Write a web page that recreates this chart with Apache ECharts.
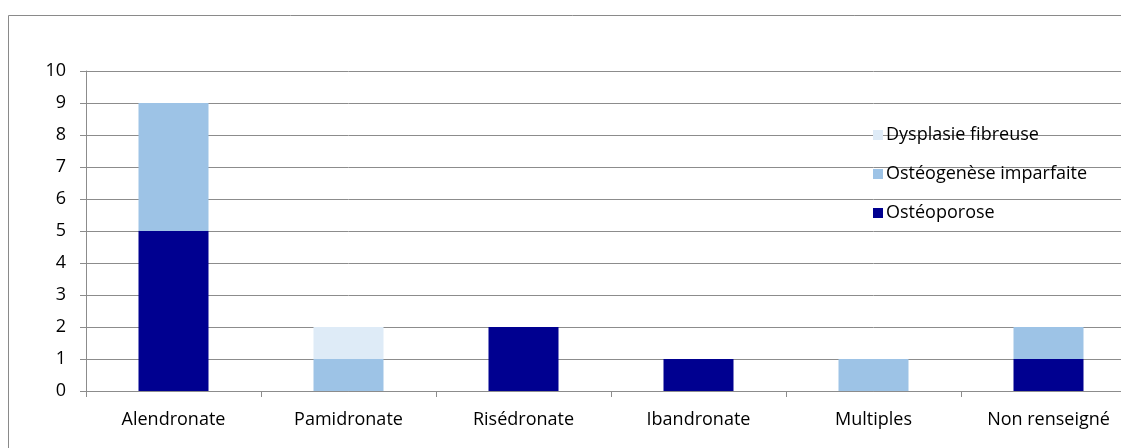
<!DOCTYPE html>
<html>
<head>
<meta charset="utf-8">
<script src="https://cdn.jsdelivr.net/npm/echarts@6/dist/echarts.min.js"></script>
<style>
html,body{margin:0;padding:0;background:#fff;overflow:hidden;width:1121px;height:448px;}
#chart{position:absolute;left:0;top:0;width:1136px;height:448px;}
</style>
</head>
<body>
<div id="chart"></div>
<script>
const categories = ['Alendronate','Pamidronate','Risédronate','Ibandronate','Multiples','Non renseigné'];
const osteoporose = [5, 0, 2, 1, 0, 1];
const osteogenese = [4, 1, 0, 0, 1, 1];
const dysplasie = [0, 1, 0, 0, 0, 0];
const yTicks = [0,1,2,3,4,5,6,7,8,9,10];

const font = '"Open Sans", "Liberation Sans", sans-serif';
const chart = echarts.init(document.getElementById('chart'), null, {renderer:'canvas'});
chart.setOption({
  animation:false,
  textStyle:{fontFamily:font},
  graphic:[{
    type:'polyline', silent:true, z:-1,
    shape:{points:[[8.5,460],[8.5,15.5],[1140,15.5]]},
    style:{stroke:'#8a8a8a', lineWidth:1, fill:null}
  }],
  grid:{left:86, top:71, bottom:57, right:0, containLabel:false},
  legend:{
    orient:'vertical', left:868, top:121, itemWidth:10, itemHeight:10, itemGap:21,
    data:['Dysplasie fibreuse','Ostéogenèse imparfaite','Ostéoporose'],
    textStyle:{fontFamily:font, fontSize:18, lineHeight:18, color:'#000', padding:[0,0,0,-2]},
    icon:'rect'
  },
  xAxis:{
    type:'category', data:categories,
    axisLine:{lineStyle:{color:'#8c8c8c', width:1}},
    axisTick:{show:true, length:6, lineStyle:{color:'#8c8c8c'}},
    axisLabel:{fontFamily:font, fontSize:18, color:'#000', margin:20}
  },
  yAxis:{
    type:'value', min:0, max:10, interval:1,
    axisLine:{show:true, lineStyle:{color:'#8c8c8c'}},
    axisTick:{show:true, length:6, lineStyle:{color:'#8c8c8c'}},
    splitLine:{lineStyle:{color:'#8c8c8c'}},
    axisLabel:{fontFamily:font, fontSize:18, color:'#000', margin:20,
      formatter:v=>yTicks.includes(v)?String(v):''}
  },
  series:[
    {name:'Ostéoporose', type:'bar', stack:'s', barWidth:'40%', data:osteoporose, itemStyle:{color:'#000090'}},
    {name:'Ostéogenèse imparfaite', type:'bar', stack:'s', data:osteogenese, itemStyle:{color:'#9DC3E6'}},
    {name:'Dysplasie fibreuse', type:'bar', stack:'s', data:dysplasie, itemStyle:{color:'#DEEBF7'}}
  ]
});
</script>
</body>
</html>
